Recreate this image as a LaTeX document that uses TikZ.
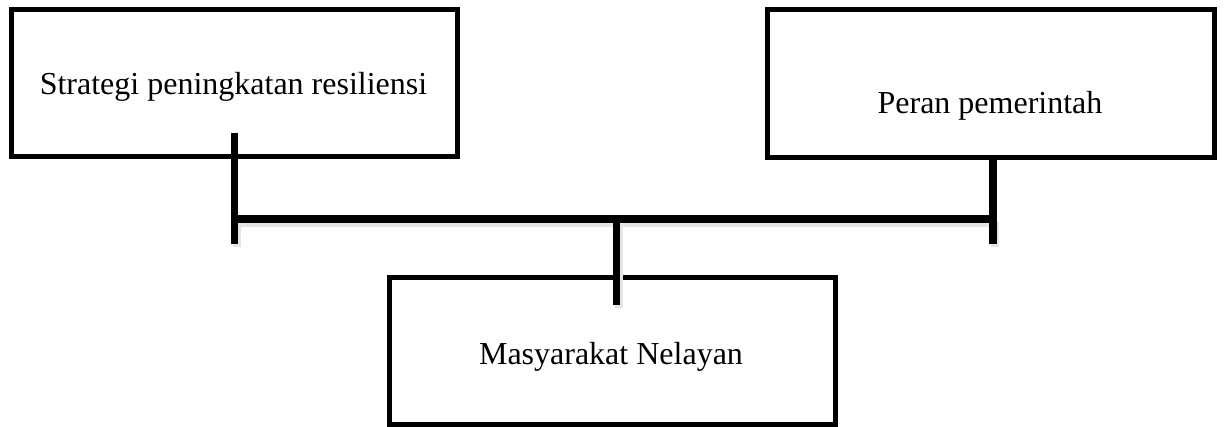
\documentclass[tikz,border=0pt]{standalone}
\usepackage{fontspec}
\setmainfont{Liberation Serif}
\begin{document}
\begin{tikzpicture}[x=0.75pt,y=-0.75pt,
  box/.style={draw=black, line width=3.75pt, fill=white, rectangle, inner sep=0pt},
  lbl/.style={anchor=base, inner sep=0pt, font=\fontsize{24pt}{28pt}\selectfont},
  conn/.style={draw=black, line width=5.6pt, line cap=butt},
  bar/.style={draw=black, line width=6pt, line cap=butt},
  shade/.style={draw=black!10, line width=6pt, line cap=butt}]
\useasboundingbox (0,0) rectangle (1224,427);
% boxes
\node[box, minimum width=334.5pt, minimum height=110.25pt] (b1) at (234.5,83) {};
\node[box, minimum width=335.25pt, minimum height=111pt] (b2) at (991,83.5) {};
\node[box, minimum width=334.5pt, minimum height=110.6pt] (b3) at (612.5,351.25) {};
% labels
\node[lbl] (t1) at (233.5,95) {Strategi peningkatan resiliensi};
\node[lbl] (t2) at (990,114) {Peran pemerintah};
\node[lbl] (t3) at (611,365) {Masyarakat Nelayan};
% connector points
\coordinate (ltop) at (234.5,133);
\coordinate (lbot) at (234.5,244);
\coordinate (rtop) at (993,160);
\coordinate (rbot) at (993,244);
\coordinate (jl) at (234.5,219);
\coordinate (jr) at (993,219);
\coordinate (jc) at (616.5,219);
\coordinate (cbot) at (616.5,305);
% soft shadows
\draw[shade] ([shift={(1,4)}]jl) -- ([shift={(1,4)}]jr);
\draw[shade] ([shift={(2,3)}]jc) -- ([shift={(2,3)}]cbot);
\draw[shade] ([shift={(2,3)}]jl) -- ([shift={(2,3)}]lbot);
\draw[shade] ([shift={(2,3)}]jr) -- ([shift={(2,3)}]rbot);
% connectors
\draw[conn] (ltop) -- (lbot);
\draw[conn] (rtop) -- (rbot);
\draw[bar] (jl) -- (jr);
\draw[conn] (jc) -- (cbot);
\end{tikzpicture}
\end{document}
